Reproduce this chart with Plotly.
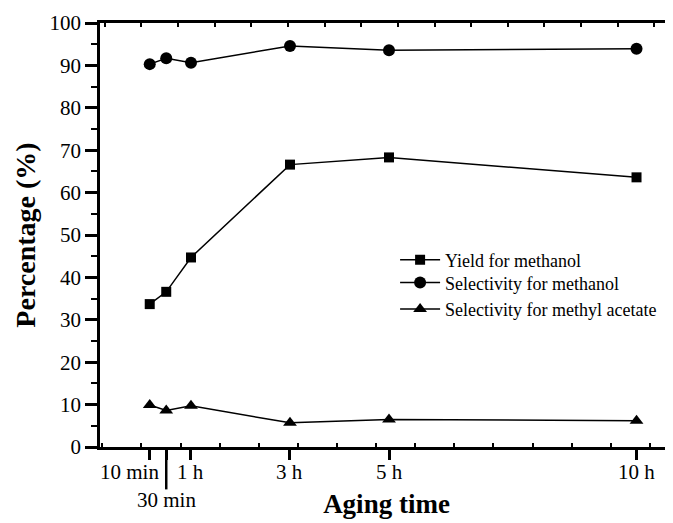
import plotly.graph_objects as go

# Aging time in hours
times = [1/6, 0.5, 1, 3, 5, 10]
time_labels = ["10 min", "30 min", "1 h", "3 h", "5 h", "10 h"]
yield_methanol = [33.7, 36.6, 44.7, 66.6, 68.3, 63.6]
sel_methanol = [90.3, 91.7, 90.6, 94.6, 93.6, 93.9]
sel_methyl_acetate = [9.9, 8.6, 9.7, 5.7, 6.5, 6.2]
y_ticks = [0, 10, 20, 30, 40, 50, 60, 70, 80, 90, 100]

FONT = "Liberation Serif"
xr = [-0.838, 10.737]

fig = go.Figure()
line = dict(color="black", width=1.5)
fig.add_trace(go.Scatter(x=times, y=yield_methanol, mode="lines+markers", name="Yield for methanol",
                         line=line, marker=dict(symbol="square", size=10, color="black"), legend="legend"))
fig.add_trace(go.Scatter(x=times, y=sel_methanol, mode="lines+markers", name="Selectivity for methanol",
                         line=line, marker=dict(symbol="circle", size=12, color="black"), legend="legend2"))
fig.add_trace(go.Scatter(x=times, y=sel_methyl_acetate, mode="lines+markers", name="Selectivity for methyl acetate",
                         line=line, marker=dict(symbol="triangle-up", size=12, color="black"), legend="legend3"))
# invisible trace for top axis
fig.add_trace(go.Scatter(x=xr, y=[None, None], xaxis="x2", showlegend=False, hoverinfo="skip"))

legfont = dict(family=FONT, size=18, color="black")
def leg(y):
    return dict(x=0.515, y=y, xanchor="left", yanchor="middle", font=legfont,
                bgcolor="rgba(0,0,0,0)", itemwidth=40)

fig.update_layout(
    width=665, height=515,
    margin=dict(l=92, r=0, t=15, b=76),
    plot_bgcolor="white", paper_bgcolor="white",
    font=dict(family=FONT, color="black", size=18),
    showlegend=True,
    legend=leg(0.441), legend2=leg(0.387), legend3=leg(0.325),
    xaxis=dict(range=xr, showgrid=False, zeroline=False, showline=True, linecolor="black", linewidth=2.5,
               tickvals=times, ticktext=[""] * len(times), ticks="outside", ticklen=10, tickwidth=2.5,
               tickcolor="black",
               minor=dict(tick0=0, dtick=0.79, ticks="inside", ticklen=4, tickwidth=1.5, tickcolor="black"),
               title=dict(text="<b>Aging time</b>", font=dict(family=FONT, size=27), standoff=32)),
    xaxis2=dict(range=xr, overlaying="x", side="top", showgrid=False, zeroline=False, showline=True,
                linecolor="black", linewidth=2.5, showticklabels=False,
                tick0=0, dtick=0.74, ticks="inside", ticklen=4, tickwidth=1.5, tickcolor="black"),
    yaxis=dict(range=[0, 100], showgrid=False, zeroline=False, showline=True, linecolor="black", linewidth=2.5,
               tickvals=y_ticks, ticks="outside", ticklen=12, tickwidth=2.5, tickcolor="black",
               tickfont=dict(family=FONT, size=21),
               minor=dict(dtick=5, ticks="outside", ticklen=6, tickwidth=2, tickcolor="black"),
               title=dict(text="<b>Percentage (%)</b>", font=dict(family=FONT, size=28), standoff=6)),
)

# tick labels as annotations
offsets = {"10 min": -20, "30 min": 0, "1 h": 0, "3 h": 0, "5 h": 0, "10 h": 0}
for t, lab in zip(times, time_labels):
    ypix = -53 if lab == "30 min" else -25
    fig.add_annotation(x=t, y=0, xref="x", yref="paper", text=lab, showarrow=False,
                       xshift=offsets[lab], yshift=ypix, font=dict(family=FONT, size=21),
                       xanchor="center", yanchor="middle")

# longer tick for 30 min
fig.add_shape(type="line", xref="x", yref="paper", x0=times[1], x1=times[1], y0=0, y1=-0.1,
              line=dict(color="black", width=2.5))

fig.write_html("out.html")
